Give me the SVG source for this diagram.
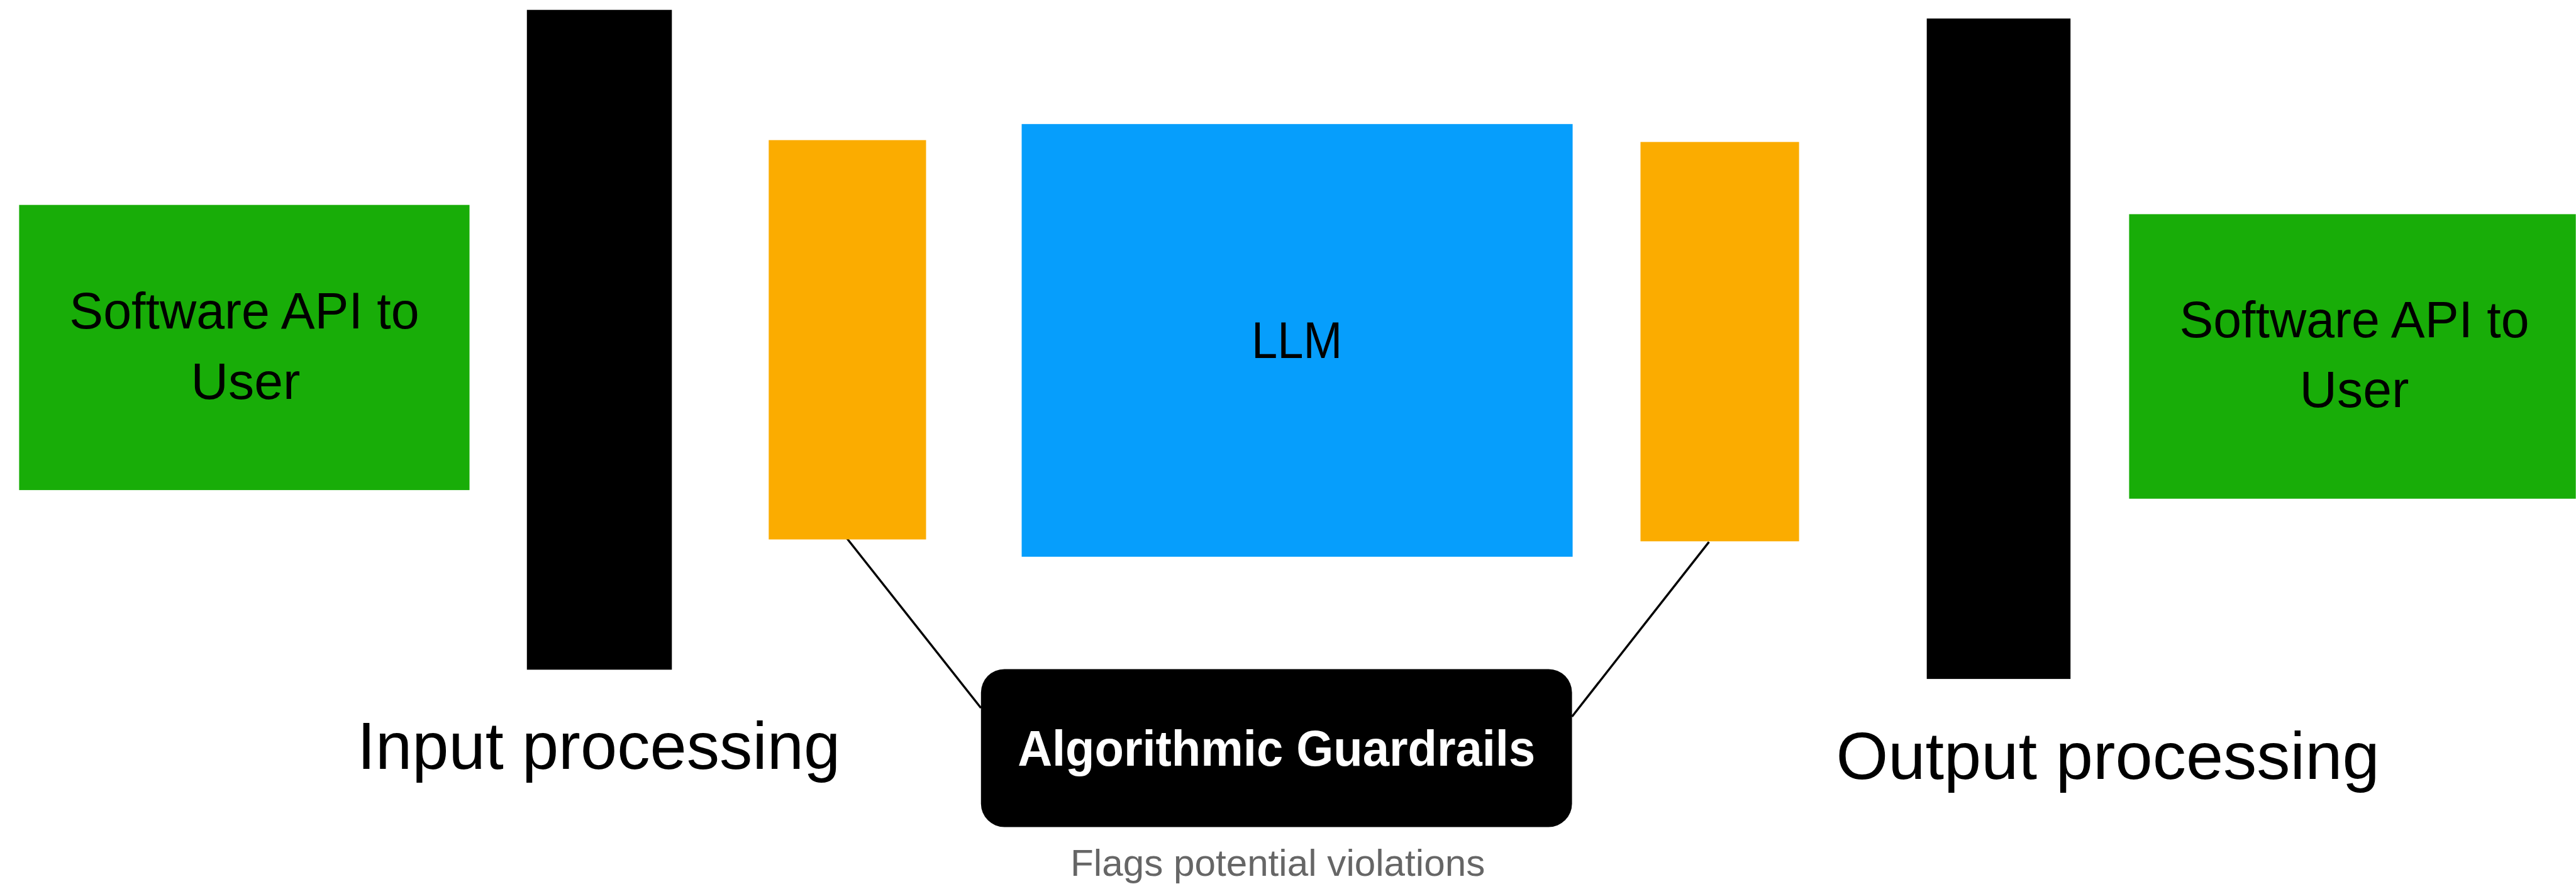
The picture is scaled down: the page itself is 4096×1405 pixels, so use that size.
<svg xmlns="http://www.w3.org/2000/svg" width="4096" height="1405" viewBox="0 0 4096 1405">
  <style>
    .lbl { font-family: "Liberation Sans", Arial, sans-serif; fill: #000; }
    .box-green { fill: #18AD08; }
    .box-black { fill: #000; }
    .box-orange { fill: #FBAC00; }
    .box-blue { fill: #069EFC; }
    .link { stroke: #000; stroke-width: 3.5; fill: none; }
  </style>
  <rect width="4096" height="1405" fill="#fff"/>
  <g transform="scale(0.981)">
    <g id="connectors">
      <line class="link" x1="1371" y1="870" x2="1590" y2="1147"/>
      <line class="link" x1="2770" y1="878" x2="2548" y2="1161"/>
    </g>

    <g id="api-in">
      <rect class="box-green" x="31" y="332" width="730" height="462"/>
      <text class="lbl" x="396" y="532" font-size="84" text-anchor="middle" textLength="567" lengthAdjust="spacingAndGlyphs">Software API to</text>
      <text class="lbl" x="398" y="646" font-size="84" text-anchor="middle">User</text>
    </g>

    <g id="input-processing">
      <rect class="box-black" x="854" y="16" width="235" height="1069"/>
      <text class="lbl" x="579" y="1246" font-size="107" textLength="783" lengthAdjust="spacingAndGlyphs">Input processing</text>
    </g>

    <g id="guard-in">
      <rect class="box-orange" x="1246" y="227" width="255" height="647"/>
    </g>

    <g id="llm">
      <rect class="box-blue" x="1656" y="201" width="893" height="701"/>
      <text class="lbl" x="2102" y="580" font-size="84" text-anchor="middle" textLength="147" lengthAdjust="spacingAndGlyphs">LLM</text>
    </g>

    <g id="guard-out">
      <rect class="box-orange" x="2659" y="230" width="257" height="647"/>
    </g>

    <g id="output-processing">
      <rect class="box-black" x="3123" y="30" width="233" height="1070"/>
      <text class="lbl" x="2976" y="1262" font-size="108" textLength="881" lengthAdjust="spacingAndGlyphs">Output processing</text>
    </g>

    <g id="api-out">
      <rect class="box-green" x="3451" y="347" width="724" height="461"/>
      <text class="lbl" x="3816" y="546" font-size="84" text-anchor="middle" textLength="567" lengthAdjust="spacingAndGlyphs">Software API to</text>
      <text class="lbl" x="3816" y="660" font-size="84" text-anchor="middle">User</text>
    </g>

    <g id="algorithmic-guardrails">
      <rect class="box-black" x="1590" y="1084" width="958" height="256" rx="38" ry="38"/>
      <text class="lbl" x="2069" y="1241" font-size="82" font-weight="bold" fill="#fff" style="fill:#fff" text-anchor="middle" textLength="839" lengthAdjust="spacingAndGlyphs">Algorithmic Guardrails</text>
      <text class="lbl" x="2071" y="1419" font-size="61" style="fill:#666" text-anchor="middle" textLength="672" lengthAdjust="spacingAndGlyphs">Flags potential violations</text>
    </g>
  </g>
</svg>
